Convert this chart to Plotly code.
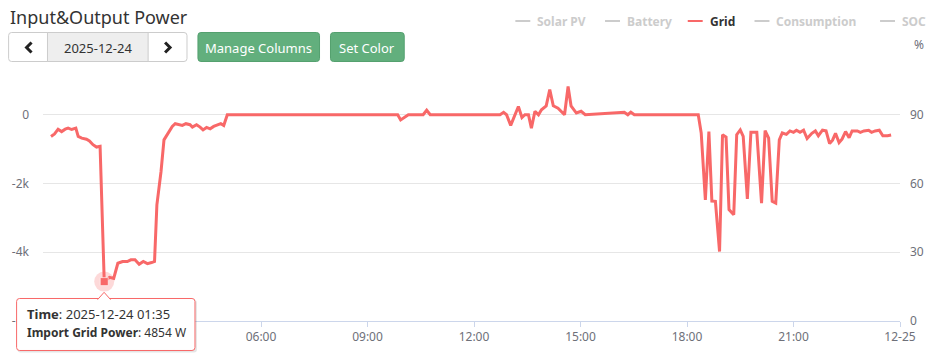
import plotly.graph_objects as go
import pandas as pd

# ---------------- data ----------------
day = "2025-12-24"
times = ["00:05","00:11","00:17","00:23","00:29","00:34","00:40","00:47","00:51","00:57",
         "01:05","01:10","01:16","01:22","01:28","01:35","01:44","01:51","01:58","02:06",
         "02:14","02:20","02:27","02:34","02:41","02:48","02:55","03:00","03:04","03:11",
         "03:16","03:23","03:30","03:35","03:42","03:47","03:53","04:00","04:04","04:11",
         "04:17","04:22","04:28","04:34","04:40","04:46","04:52","04:57","05:03",
         "09:51","09:56","10:09","10:34","10:40","10:46",
         "12:44","12:50","12:55","13:02","13:15","13:21","13:26","13:32","13:37","13:43",
         "13:49","13:54","14:02","14:08","14:14","14:22","14:33","14:39","14:44","14:53",
         "15:01","15:08",
         "16:14","16:20","16:25","16:31","18:19",
         "18:24","18:31","18:37","18:42","18:48","18:55","19:00","19:06","19:11","19:19",
         "19:24","19:30","19:35","19:42","19:48","19:58","20:06","20:12","20:18","20:24",
         "20:30","20:36","20:41",
         "20:48","20:54","21:00","21:05","21:11","21:17","21:23","21:31","21:37","21:42",
         "21:49","21:55","22:01","22:06","22:11","22:17","22:22","22:28","22:34","22:39",
         "22:48","22:53","22:59","23:07","23:12","23:18","23:25","23:31","23:39","23:45"]
grid_w = [-630,-560,-420,-490,-420,-390,-430,-390,-630,-680,
          -710,-760,-870,-940,-920,-4854,-4730,-4760,-4320,-4270,
          -4270,-4220,-4220,-4350,-4270,-4330,-4300,-4270,-2620,-1650,
          -730,-530,-340,-260,-290,-310,-260,-290,-360,-290,
          -360,-440,-370,-410,-340,-290,-260,-310,0,
          0,-150,0,0,130,0,
          0,70,0,-310,240,-80,0,0,-390,100,
          0,145,260,730,260,190,0,820,260,50,
          100,0,
          75,0,75,0,0,
          -530,-2480,-490,-2510,-2520,-3980,-580,-650,-2760,-2910,
          -580,-440,-630,-2450,-510,-510,-2570,-460,-680,-2520,
          -2570,-730,-530,
          -570,-470,-510,-450,-510,-450,-690,-540,-470,-610,
          -450,-470,-840,-740,-540,-810,-710,-490,-670,-470,
          -470,-510,-470,-450,-510,-470,-450,-610,-610,-590]
assert len(times) == len(grid_w)

highlight_time = "01:35"
highlight_value = -4854

left_tickvals = [-6000, -4000, -2000, 0, 2000]
left_ticktext = ["-6k", "-4k", "-2k", "0", ""]
right_tickvals = [0, 30, 60, 90]
x_tick_times = ["2025-12-24 00:00", "2025-12-24 03:00", "2025-12-24 06:00", "2025-12-24 09:00",
                "2025-12-24 12:00", "2025-12-24 15:00", "2025-12-24 18:00", "2025-12-24 21:00",
                "2025-12-25 00:00"]
x_tick_text = ["12-24", "03:00", "06:00", "09:00", "12:00", "15:00", "18:00", "21:00", "12-25"]

legend_names = ["Solar PV", "Battery", "Grid", "Consumption", "SOC"]
legend_active = [False, False, True, False, False]

# ---------------- styling ----------------
RED = "#f86868"
FONT = "Noto Sans"
AX = "#6E7079"
W, H = 936, 361
L, R, T, B = 43, 903, 46, 321

def px(x):
    return (x - L) / (R - L)

def py(y):
    return (B - y) / (B - T)

def P(x, y):
    return f"{px(x):.5f},{py(y):.5f}"

def rrect(x0, y0, x1, y1, r):
    return (f"M {P(x0+r,y0)} L {P(x1-r,y0)} Q {P(x1,y0)} {P(x1,y0+r)} "
            f"L {P(x1,y1-r)} Q {P(x1,y1)} {P(x1-r,y1)} L {P(x0+r,y1)} "
            f"Q {P(x0,y1)} {P(x0,y1-r)} L {P(x0,y0+r)} Q {P(x0,y0)} {P(x0+r,y0)} Z")

x_dt = pd.to_datetime([f"{day} {t}" for t in times])

fig = go.Figure()
fig.add_trace(go.Scatter(x=x_dt, y=grid_w, mode="lines",
                         line=dict(color=RED, width=3), hoverinfo="skip", showlegend=False))
hx = pd.to_datetime([f"{day} {highlight_time}"])
fig.add_trace(go.Scatter(x=hx, y=[highlight_value], mode="markers",
                         marker=dict(size=20, color="rgba(248,104,104,0.25)", line=dict(width=0)),
                         hoverinfo="skip", showlegend=False))
fig.add_trace(go.Scatter(x=hx, y=[highlight_value], mode="markers",
                         marker=dict(size=8, symbol="square", color=RED,
                                     line=dict(width=1, color="rgba(255,255,255,0.6)")),
                         hoverinfo="skip", showlegend=False))
fig.add_trace(go.Scatter(x=[None], y=[None], yaxis="y2", showlegend=False, hoverinfo="skip"))

shapes = []
annotations = []

# title
annotations.append(dict(text="Input&Output Power", x=px(8), y=py(17), xref="paper", yref="paper",
                        xanchor="left", yanchor="middle", showarrow=False,
                        font=dict(family=FONT, size=18, color="#333")))

# date group
shapes.append(dict(type="path", path=rrect(8.5, 32.5, 187.5, 61.5, 3), xref="paper", yref="paper",
                   fillcolor="white", line=dict(color="#ccc", width=1), layer="above"))
shapes.append(dict(type="rect", x0=px(47.5), x1=px(148.5), y0=py(32.5), y1=py(61.5),
                   xref="paper", yref="paper", fillcolor="#eeeeee",
                   line=dict(color="#ccc", width=1), layer="above"))
shapes.append(dict(type="path", path=f"M {P(31.5,42.5)} L {P(26.5,47.5)} L {P(31.5,52.5)}",
                   xref="paper", yref="paper", line=dict(color="#222", width=3), layer="above"))
shapes.append(dict(type="path", path=f"M {P(165.5,42.5)} L {P(170.5,47.5)} L {P(165.5,52.5)}",
                   xref="paper", yref="paper", line=dict(color="#222", width=3), layer="above"))
annotations.append(dict(text="2025-12-24", x=px(98), y=py(47.5), xref="paper", yref="paper",
                        xanchor="center", yanchor="middle", showarrow=False,
                        font=dict(family=FONT, size=13, color="#333")))

# green buttons
for (x0, x1, label) in [(198.5, 320.5, "Manage Columns"), (331.5, 405.5, "Set Color")]:
    shapes.append(dict(type="path", path=rrect(x0, 32.5, x1, 61.5, 3), xref="paper", yref="paper",
                       fillcolor="#62af7d", line=dict(color="#54a06f", width=1), layer="above"))
    annotations.append(dict(text=label, x=px((x0 + x1) / 2), y=py(47.5), xref="paper", yref="paper",
                            xanchor="center", yanchor="middle", showarrow=False,
                            font=dict(family=FONT, size=13, color="white")))

# legend
leg_line_x = [517, 607, 690, 757, 883]
for name, active, lx in zip(legend_names, legend_active, leg_line_x):
    c_line = RED if active else "#cccccc"
    c_text = "#333333" if active else "#cccccc"
    shapes.append(dict(type="line", x0=px(lx), x1=px(lx + 15), y0=py(21), y1=py(21),
                       xref="paper", yref="paper", line=dict(color=c_line, width=2), layer="above"))
    annotations.append(dict(text=f"<b>{name}</b>", x=px(lx + 20), y=py(21.5), xref="paper", yref="paper",
                            xanchor="left", yanchor="middle", showarrow=False,
                            font=dict(family=FONT, size=12, color=c_text)))

# right axis name
annotations.append(dict(text="%", x=px(922), y=py(45), xref="paper", yref="paper",
                        xanchor="center", yanchor="middle", showarrow=False,
                        font=dict(family=FONT, size=12, color=AX)))

# tooltip
shapes.append(dict(type="path", path=rrect(17.5, 300, 197.5, 352.5, 3), xref="paper", yref="paper",
                   fillcolor="rgba(0,0,0,0.10)", line=dict(width=0), layer="above"))
shapes.append(dict(type="path", path=rrect(16.5, 298.5, 195.5, 350.5, 3), xref="paper", yref="paper",
                   fillcolor="white", line=dict(color=RED, width=1), layer="above"))
shapes.append(dict(type="path", path=f"M {P(97.8,299.6)} L {P(104.3,292.3)} L {P(110.8,299.6)}",
                   xref="paper", yref="paper", fillcolor="white", line=dict(color=RED, width=1),
                   layer="above"))
annotations.append(dict(text=f"<b>Time</b>: {day} {highlight_time}", x=px(25), y=py(314),
                        xref="paper", yref="paper", xanchor="left", yanchor="middle", showarrow=False,
                        font=dict(family=FONT, size=13, color="#333")))
annotations.append(dict(text=f"<b>Import Grid Power</b>: {abs(highlight_value)} W", x=px(25), y=py(332),
                        xref="paper", yref="paper", xanchor="left", yanchor="middle", showarrow=False,
                        font=dict(family=FONT, size=12, color="#333")))

fig.update_layout(
    width=W, height=H,
    margin=dict(l=L, r=W - R, t=T, b=H - B, pad=0),
    paper_bgcolor="white", plot_bgcolor="white",
    hovermode=False, showlegend=False,
    font=dict(family=FONT, size=12, color=AX),
    xaxis=dict(type="date", range=["2025-12-23 23:51:30", "2025-12-25 00:00"],
               tickvals=pd.to_datetime(x_tick_times), ticktext=x_tick_text,
               showgrid=False, zeroline=False, showline=True, linecolor="#ccd6eb", linewidth=1,
               ticks="outside", ticklen=5, tickcolor="#ccd6eb",
               tickfont=dict(family=FONT, size=12, color=AX), fixedrange=True),
    yaxis=dict(range=[-6000, 2000], tickvals=left_tickvals, ticktext=left_ticktext,
               showgrid=True, gridcolor="#e6e6e6", gridwidth=1, zeroline=False, showline=False,
               ticks="", ticklabelstandoff=13,
               tickfont=dict(family=FONT, size=12, color=AX), fixedrange=True),
    yaxis2=dict(range=[0, 120], tickvals=right_tickvals, overlaying="y", side="right",
                showgrid=False, zeroline=False, showline=False, ticks="", ticklabelstandoff=9,
                tickfont=dict(family=FONT, size=12, color=AX), fixedrange=True),
    shapes=shapes, annotations=annotations,
)

fig.write_html("out.html", config={"displayModeBar": False},
               post_script="document.body.style.margin='0';document.body.style.overflow='hidden';")
